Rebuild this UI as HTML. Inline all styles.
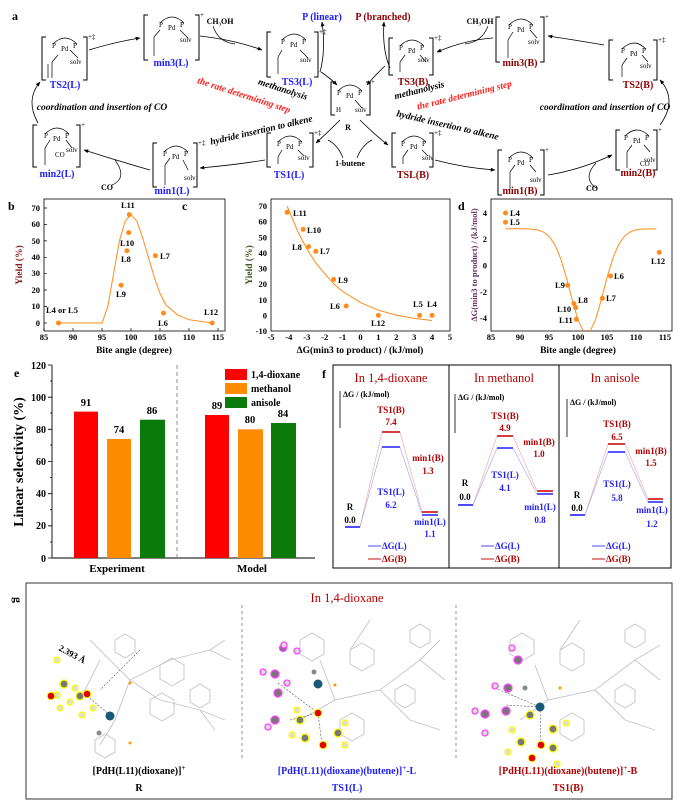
<!DOCTYPE html>
<html><head><meta charset="utf-8"><style>
html,body{margin:0;padding:0;background:#fff}
svg{display:block}
text{font-family:"Liberation Serif",serif;font-weight:bold}
.s{font-size:7px;font-weight:normal}
.lb{font-size:10px}
.it{font-style:italic;font-size:9.5px}
.tk{font-size:8.5px}
.ax{font-size:9.5px}
</style></head><body>
<svg width="681" height="809" viewBox="0 0 681 809" xmlns="http://www.w3.org/2000/svg">
<defs>
<marker id="ah" viewBox="0 0 10 10" refX="9" refY="5" markerWidth="6" markerHeight="6" orient="auto"><path d="M0,1 L10,5 L0,9 z" fill="#000"/></marker>
<clipPath id="cd"><rect x="491" y="198" width="181" height="133"/></clipPath>
<g id="cx">
<path d="M-12,-4 Q0,-16 12,-4" fill="none" stroke="#000" stroke-width="0.8"/>
<text x="-13" y="0" class="s">P</text><text x="-4" y="3" class="s">Pd</text><text x="8" y="0" class="s">P</text>
</g>
</defs>
<!-- ===== Panel a ===== -->
<text x="12" y="20" font-size="12">a</text>
<g fill="none" stroke="#000" stroke-width="1">
<path d="M46,37 H42 V80 H46 M83,37 H87 V80 H83"/>
<path d="M148,15 H144 V60 H148 M195,15 H199 V60 H195"/>
<path d="M271,32 H267 V77 H271 M314,32 H318 V77 H314"/>
<path d="M393,38 H389 V75 H393 M429,38 H433 V75 H429"/>
<path d="M500,17 H496 V62 H500 M540,17 H544 V62 H540"/>
<path d="M613,40 H609 V80 H613 M653,40 H657 V80 H653"/>
<path d="M335,82 H331 V115 H335 M366,82 H370 V115 H366"/>
<path d="M37,125 H33 V167 H37 M76,125 H80 V167 H76"/>
<path d="M157,143 H153 V187 H157 M193,143 H197 V187 H193"/>
<path d="M271,133 H267 V167 H271 M309,133 H313 V167 H309"/>
<path d="M396,133 H392 V167 H396 M429,133 H433 V167 H429"/>
<path d="M502,150 H498 V195 H502 M540,150 H544 V195 H540"/>
<path d="M620,130 H616 V170 H620 M653,130 H657 V170 H653"/>
</g>
<g stroke="#000" stroke-width="0.7" fill="none">
<path d="M58,55 L52,62 V78 M48,64 V78"/><path d="M160,30 L154,37 V56"/><path d="M282,50 L278,57 V74"/>
<path d="M405,55 L400,62 V72"/><path d="M513,32 L508,40 V58"/><path d="M627,58 L622,65 V77"/>
<path d="M50,140 L45,148 V165"/><path d="M170,158 L165,165 V185"/><path d="M282,150 L278,157 V164"/>
<path d="M408,150 L403,157 V164"/><path d="M515,165 L510,172 V190"/><path d="M632,145 L627,152 V168"/>
<path d="M70,50 L78,58"/><path d="M180,30 L188,38"/><path d="M300,50 L308,58"/><path d="M420,55 L426,62"/>
<path d="M530,30 L537,38"/><path d="M642,55 L648,62"/><path d="M355,100 L362,108"/><path d="M66,140 L72,148"/>
<path d="M183,160 L188,170"/><path d="M298,150 L304,156"/><path d="M422,150 L428,156"/><path d="M530,165 L536,172"/><path d="M644,145 L650,152"/>
</g>
<use href="#cx" x="65" y="48"/><use href="#cx" x="172" y="27"/><use href="#cx" x="294" y="44"/><use href="#cx" x="412" y="50"/>
<use href="#cx" x="521" y="29"/><use href="#cx" x="634" y="53"/><use href="#cx" x="350" y="95"/><use href="#cx" x="57" y="138"/>
<use href="#cx" x="176" y="156"/><use href="#cx" x="290" y="146"/><use href="#cx" x="414" y="146"/><use href="#cx" x="521" y="162"/><use href="#cx" x="637" y="140"/>
<g class="s" font-size="7">
<text x="70" y="64" class="s">solv</text><text x="180" y="42" class="s">solv</text><text x="300" y="62" class="s">solv</text>
<text x="418" y="62" class="s">solv</text><text x="528" y="44" class="s">solv</text><text x="640" y="68" class="s">solv</text>
<text x="355" y="112" class="s">solv</text><text x="336" y="112" class="s">H</text><text x="66" y="152" class="s">solv</text><text x="55" y="157" class="s">CO</text>
<text x="184" y="180" class="s">solv</text><text x="298" y="160" class="s">solv</text><text x="422" y="160" class="s">solv</text>
<text x="530" y="182" class="s">solv</text><text x="644" y="162" class="s">solv</text><text x="640" y="166" class="s">CO</text>
<text x="88" y="39" class="s">+‡</text><text x="200" y="17" class="s">+</text><text x="319" y="34" class="s">+‡</text><text x="434" y="40" class="s">+‡</text>
<text x="545" y="19" class="s">+</text><text x="658" y="42" class="s">+‡</text><text x="371" y="84" class="s">+</text><text x="81" y="127" class="s">+</text>
<text x="198" y="145" class="s">+‡</text><text x="314" y="135" class="s">+‡</text><text x="434" y="135" class="s">+‡</text><text x="545" y="152" class="s">+</text><text x="658" y="132" class="s">+</text>
</g>
<g class="lb" text-anchor="middle">
<text x="65" y="88" fill="#2020ff">TS2(L)</text><text x="171" y="66" fill="#2020ff">min3(L)</text><text x="297" y="85" fill="#2020ff">TS3(L)</text>
<text x="413" y="85" fill="#8b0000">TS3(B)</text><text x="520" y="66" fill="#8b0000">min3(B)</text><text x="638" y="88" fill="#8b0000">TS2(B)</text>
<text x="57" y="177" fill="#2020ff">min2(L)</text><text x="172" y="194" fill="#2020ff">min1(L)</text><text x="289" y="178" fill="#2020ff">TS1(L)</text>
<text x="413" y="178" fill="#8b0000">TSL(B)</text><text x="520" y="194" fill="#8b0000">min1(B)</text><text x="638" y="176" fill="#8b0000">min2(B)</text>
<text x="322" y="20" fill="#2020ff">P (linear)</text><text x="383" y="20" fill="#8b0000">P (branched)</text>
<text x="348" y="130" font-size="8">R</text><text x="350" y="166" font-size="8">1-butene</text>
<text x="220" y="24" font-size="8" font-weight="normal">CH₃OH</text><text x="480" y="24" font-size="8" font-weight="normal">CH₃OH</text>
<text x="107" y="190" font-size="8" font-weight="normal">CO</text><text x="592" y="191" font-size="8" font-weight="normal">CO</text>
</g>
<g class="it" text-anchor="middle">
<text x="102" y="110">coordination and insertion of CO</text><text x="605" y="110">coordination and insertion of CO</text>
<text transform="translate(282,92) rotate(18)" fill="#000">methanolysis</text>
<text transform="translate(243,98) rotate(18)" fill="#ff2020">the rate determining step</text>
<text transform="translate(420,93) rotate(-14)">methanolysis</text>
<text transform="translate(465,98) rotate(-14)" fill="#ff2020">the rate determining step</text>
<text transform="translate(262,133) rotate(-13)">hydride insertion to alkene</text>
<text transform="translate(447,128) rotate(13)">hydride insertion to alkene</text>
</g>
<g fill="none" stroke="#000" stroke-width="0.8" marker-end="url(#ah)">
<path d="M89,50 Q115,42 140,38"/><path d="M200,36 Q235,40 262,50"/><path d="M321,72 Q330,78 337,85"/>
<path d="M385,66 Q375,75 367,85"/><path d="M493,38 Q465,40 437,52"/><path d="M604,45 Q575,40 548,36"/>
<path d="M38,123 Q25,100 40,82"/><path d="M150,170 Q115,160 84,150"/><path d="M265,160 Q235,165 200,168"/>
<path d="M340,120 Q325,135 316,143"/><path d="M360,120 Q375,135 388,145"/><path d="M435,160 Q465,168 495,170"/>
<path d="M548,175 Q580,170 612,155"/><path d="M660,125 Q678,100 660,80"/>
<path d="M320,72 Q326,50 322,22"/><path d="M390,68 Q382,50 384,22"/>
</g>
<g fill="none" stroke="#000" stroke-width="0.7">
<path d="M213,26 Q218,42 235,44"/><path d="M488,26 Q482,42 465,44"/><path d="M112,185 Q128,178 115,160"/><path d="M596,188 Q582,178 596,163"/>
<path d="M343,158 Q338,145 328,140"/><path d="M357,158 Q362,145 372,140"/>
</g>
<!-- ===== Panel b ===== -->
<text x="8" y="210" font-size="12">b</text>
<rect x="44" y="199" width="181" height="132" fill="none" stroke="#000" stroke-width="0.8"/>
<g class="tk" text-anchor="middle">
<text x="44" y="340">85</text><text x="73" y="340">90</text><text x="102" y="340">95</text><text x="131" y="340">100</text><text x="160" y="340">105</text><text x="189" y="340">110</text><text x="218" y="340">115</text>
</g>
<g class="tk" text-anchor="end">
<text x="40" y="326">0</text><text x="40" y="309">10</text><text x="40" y="293">20</text><text x="40" y="276">30</text><text x="40" y="260">40</text><text x="40" y="244">50</text><text x="40" y="227">60</text><text x="40" y="211">70</text>
</g>
<g stroke="#000" stroke-width="0.7"><path d="M44,331 v-3 M73,331 v-3 M102,331 v-3 M131,331 v-3 M160,331 v-3 M189,331 v-3 M218,331 v-3 M44,323 h3 M44,306.6 h3 M44,290 h3 M44,273.7 h3 M44,257.3 h3 M44,240.9 h3 M44,224.4 h3 M44,208 h3"/></g>
<text x="134" y="353" class="ax" text-anchor="middle">Bite angle (degree)</text>
<text transform="translate(22,265) rotate(-90)" class="ax" text-anchor="middle" fill="#8b1a1a">Yield (%)</text>
<path d="M58.5,323 L102,323 L107.8,306.6 L113.6,273.7 L119.4,240.9 L125.2,221.1 L131,214.6 L136.8,221.1 L142.6,237.6 L148.4,257.3 L154.2,277 L160,293.4 L165.8,304.9 L177.4,314.8 L189,319.7 L212.2,323" fill="none" stroke="#ff8c1a" stroke-width="1"/>
<g fill="#ff8c1a"><circle cx="58.5" cy="323" r="2.5"/><circle cx="121.1" cy="285.2" r="2.5"/><circle cx="126.9" cy="250.7" r="2.5"/><circle cx="128.7" cy="232.6" r="2.5"/><circle cx="129.3" cy="214.6" r="2.5"/><circle cx="155.4" cy="255.6" r="2.5"/><circle cx="163.5" cy="313.1" r="2.5"/><circle cx="212.2" cy="323" r="2.5"/></g>
<g class="tk" font-size="7.5">
<text x="46" y="313">L4 or L5</text><text x="116" y="297">L9</text><text x="121" y="262">L8</text><text x="120" y="246">L10</text><text x="121" y="208">L11</text><text x="160" y="259">L7</text><text x="158" y="326">L6</text><text x="204" y="315">L12</text>
</g>
<!-- ===== Panel c ===== -->
<text x="182" y="210" font-size="12">c</text>
<rect x="271" y="199" width="179" height="132" fill="none" stroke="#000" stroke-width="0.8"/>
<g class="tk" text-anchor="middle">
<text x="271" y="340">-5</text><text x="288.9" y="340">-4</text><text x="306.8" y="340">-3</text><text x="324.7" y="340">-2</text><text x="342.6" y="340">-1</text><text x="360.5" y="340">0</text><text x="378.4" y="340">1</text><text x="396.3" y="340">2</text><text x="414.2" y="340">3</text><text x="432.1" y="340">4</text><text x="450" y="340">5</text>
</g>
<g class="tk" text-anchor="end" font-size="7.5">
<text x="267" y="209">70</text><text x="267" y="224.6">60</text><text x="267" y="240.3">50</text><text x="267" y="255.9">40</text><text x="267" y="271.5">30</text><text x="267" y="287.1">20</text><text x="267" y="302.8">10</text><text x="267" y="318.4">0</text><text x="267" y="334">-10</text>
</g>
<text x="360" y="353" class="ax" text-anchor="middle">ΔG(min3 to product) / (kJ/mol)</text>
<text transform="translate(252,265) rotate(-90)" class="ax" text-anchor="middle" fill="#3a5a1a">Yield (%)</text>
<path d="M287.1,206 L298,232 L307,249.1 L315.8,263.1 L324.7,273.7 L333.7,283.8 L342.6,291.4 L360.5,302.6 L378.4,310.2 L396.3,315.1 L414.2,318.4 L432.1,320.5" fill="none" stroke="#ff8c1a" stroke-width="1"/>
<g fill="#ff8c1a"><circle cx="287.1" cy="212.3" r="2.5"/><circle cx="303.2" cy="229.4" r="2.5"/><circle cx="308.6" cy="246.6" r="2.5"/><circle cx="315.8" cy="251.3" r="2.5"/><circle cx="333.7" cy="279.4" r="2.5"/><circle cx="346.2" cy="306" r="2.5"/><circle cx="378.4" cy="315.4" r="2.5"/><circle cx="419.6" cy="315.4" r="2.5"/><circle cx="432.1" cy="315.4" r="2.5"/></g>
<g class="tk" font-size="7.5">
<text x="293" y="216">L11</text><text x="307" y="233">L10</text><text x="292" y="250">L8</text><text x="320" y="254">L7</text><text x="338" y="283">L9</text><text x="330" y="309">L6</text><text x="371" y="326">L12</text><text x="413" y="307">L5</text><text x="427" y="307">L4</text>
</g>
<!-- ===== Panel d ===== -->
<text x="458" y="210" font-size="12">d</text>
<rect x="491" y="199" width="181" height="132" fill="none" stroke="#000" stroke-width="0.8"/>
<g class="tk" text-anchor="middle">
<text x="491" y="340">85</text><text x="520" y="340">90</text><text x="549" y="340">95</text><text x="578" y="340">100</text><text x="607" y="340">105</text><text x="636" y="340">110</text><text x="665" y="340">115</text>
</g>
<g class="tk" text-anchor="end">
<text x="487" y="216">4</text><text x="487" y="242">2</text><text x="487" y="268.5">0</text><text x="487" y="295">-2</text><text x="487" y="321">-4</text>
</g>
<text x="578" y="353" class="ax" text-anchor="middle">Bite angle (degree)</text>
<text transform="translate(477,265) rotate(-90)" font-size="8.5" text-anchor="middle" fill="#6a2a6a">ΔG(min3 to product) / (kJ/mol)</text>
<path clip-path="url(#cd)" d="M505.5,228.8 L520,228.8 L531.6,229.1 L537.4,229.9 L543.2,231.9 L549,236.2 L554.8,244.6 L560.6,258.4 L566.4,277.6 L572.2,299.9 L578,320 L583.8,332.2 L586.7,333.8 L589.6,332.2 L595.4,320 L601.2,299.9 L607,277.6 L612.8,258.4 L618.6,244.6 L624.4,236.2 L630.2,231.9 L636,229.9 L641.8,229.1 L656.3,228.8" fill="none" stroke="#ff8c1a" stroke-width="1"/>
<g fill="#ff8c1a"><circle cx="505.5" cy="213" r="2.5"/><circle cx="505.5" cy="222.2" r="2.5"/><circle cx="567.6" cy="285.2" r="2.5"/><circle cx="573.9" cy="303.6" r="2.5"/><circle cx="575.7" cy="307.5" r="2.5"/><circle cx="576.3" cy="319.3" r="2.5"/><circle cx="602.4" cy="298.3" r="2.5"/><circle cx="610.5" cy="276" r="2.5"/><circle cx="659.2" cy="252.4" r="2.5"/></g>
<g class="tk" font-size="7.5">
<text x="510" y="216">L4</text><text x="510" y="225">L5</text><text x="555" y="288">L9</text><text x="578" y="303">L8</text><text x="557" y="312">L10</text><text x="559" y="323">L11</text><text x="606" y="301">L7</text><text x="614" y="279">L6</text><text x="651" y="264">L12</text>
</g>
<!-- ===== Panel e ===== -->
<text x="14" y="377" font-size="12">e</text>
<path d="M52,365 V558 H315" fill="none" stroke="#000" stroke-width="0.9"/>
<g stroke="#000" stroke-width="0.8"><path d="M52,365 h-4 M52,397.2 h-4 M52,429.3 h-4 M52,461.5 h-4 M52,493.7 h-4 M52,525.8 h-4 M52,558 h-4 M52,381 h-2 M52,413 h-2 M52,445 h-2 M52,477.6 h-2 M52,509.7 h-2 M52,542 h-2"/></g>
<g font-size="10" text-anchor="end">
<text x="46" y="369">120</text><text x="46" y="401">100</text><text x="46" y="433">80</text><text x="46" y="465">60</text><text x="46" y="497">40</text><text x="46" y="529">20</text><text x="46" y="562">0</text>
</g>
<text transform="translate(23,462) rotate(-90)" font-size="14" text-anchor="middle">Linear selectivity (%)</text>
<line x1="177" y1="365" x2="177" y2="558" stroke="#777" stroke-width="0.8" stroke-dasharray="4,3"/>
<rect x="74" y="411.6" width="24" height="146.4" fill="#ff0000"/>
<rect x="107" y="439" width="24" height="119" fill="#ff8c00"/>
<rect x="140" y="419.7" width="25" height="138.3" fill="#0a7a0a"/>
<rect x="205" y="415" width="24" height="143" fill="#ff0000"/>
<rect x="238" y="429.3" width="25" height="128.7" fill="#ff8c00"/>
<rect x="271" y="423" width="25" height="135" fill="#0a7a0a"/>
<g font-size="10.5" text-anchor="middle">
<text x="86" y="406">91</text><text x="119" y="433">74</text><text x="152" y="414">86</text><text x="217" y="409">89</text><text x="250" y="423">80</text><text x="283" y="417">84</text>
<text x="117" y="572" font-size="11">Experiment</text><text x="252" y="572" font-size="11">Model</text>
</g>
<rect x="225" y="369" width="22" height="11" fill="#ff0000"/><rect x="225" y="383" width="22" height="11" fill="#ff8c00"/><rect x="225" y="397" width="22" height="11" fill="#0a7a0a"/>
<g font-size="10"><text x="251" y="378">1,4-dioxane</text><text x="251" y="392">methanol</text><text x="251" y="406">anisole</text></g>
<!-- ===== Panel f ===== -->
<text x="322" y="378" font-size="12">f</text>
<rect x="333" y="365" width="338" height="203" fill="none" stroke="#000" stroke-width="1"/>
<line x1="449" y1="365" x2="449" y2="568" stroke="#000"/><line x1="559" y1="365" x2="559" y2="568" stroke="#000"/>
<g font-size="12.5" fill="#b00000" text-anchor="middle" font-weight="normal">
<text x="391" y="382" style="font-weight:normal">In 1,4-dioxane</text><text x="504" y="382" style="font-weight:normal">In methanol</text><text x="615" y="382" style="font-weight:normal">In anisole</text>
</g>
<g stroke="#000" stroke-width="0.8"><path d="M340,428 V391 M455,433 V394 M567,437 V399"/></g>
<g font-size="8"><text x="343" y="397">ΔG / (kJ/mol)</text><text x="458" y="400">ΔG / (kJ/mol)</text><text x="570" y="405">ΔG / (kJ/mol)</text></g>
<!-- col1 -->
<g stroke-width="0.6" fill="none"><path d="M360,527 L382,432 M400,432 L422,512" stroke="#f4a0a0"/><path d="M360,527 L382,447 M400,447 L422,514" stroke="#a0a0f4"/></g>
<g stroke-width="1.6"><path d="M345,527 H360" stroke="#2020ff"/><path d="M382,432 H400 M422,512 H438" stroke="#c00000"/><path d="M382,447 H400 M422,515 H438" stroke="#2020ff"/></g>
<g font-size="9" text-anchor="middle">
<text x="391" y="413" fill="#b00000">TS1(B)</text><text x="391" y="425" fill="#b00000">7.4</text>
<text x="428" y="461" fill="#b00000">min1(B)</text><text x="428" y="474" fill="#b00000">1.3</text>
<text x="391" y="495" fill="#2020ff">TS1(L)</text><text x="391" y="508" fill="#2020ff">6.2</text>
<text x="350" y="510">R</text><text x="350" y="523">0.0</text>
<text x="430" y="525" fill="#2020ff">min1(L)</text><text x="430" y="537" fill="#2020ff">1.1</text>
</g>
<!-- col2 -->
<g stroke-width="0.6" fill="none"><path d="M473,505 L497,436 M513,436 L537,491" stroke="#f4a0a0"/><path d="M473,505 L497,448 M513,448 L537,494" stroke="#a0a0f4"/></g>
<g stroke-width="1.6"><path d="M458,505 H473" stroke="#2020ff"/><path d="M497,436 H513 M537,491 H553" stroke="#c00000"/><path d="M497,448 H513 M537,494 H553" stroke="#2020ff"/></g>
<g font-size="9" text-anchor="middle">
<text x="505" y="419" fill="#b00000">TS1(B)</text><text x="505" y="431" fill="#b00000">4.9</text>
<text x="539" y="445" fill="#b00000">min1(B)</text><text x="539" y="457" fill="#b00000">1.0</text>
<text x="505" y="478" fill="#2020ff">TS1(L)</text><text x="505" y="491" fill="#2020ff">4.1</text>
<text x="465" y="486">R</text><text x="465" y="500">0.0</text>
<text x="540" y="510" fill="#2020ff">min1(L)</text><text x="540" y="523" fill="#2020ff">0.8</text>
</g>
<!-- col3 -->
<g stroke-width="0.6" fill="none"><path d="M585,515 L608,444 M625,444 L648,499" stroke="#f4a0a0"/><path d="M585,515 L608,452 M625,452 L648,502" stroke="#a0a0f4"/></g>
<g stroke-width="1.6"><path d="M570,515 H585" stroke="#2020ff"/><path d="M608,444 H625 M648,499 H663" stroke="#c00000"/><path d="M608,452 H625 M648,502 H663" stroke="#2020ff"/></g>
<g font-size="9" text-anchor="middle">
<text x="617" y="427" fill="#b00000">TS1(B)</text><text x="617" y="440" fill="#b00000">6.5</text>
<text x="651" y="454" fill="#b00000">min1(B)</text><text x="651" y="466" fill="#b00000">1.5</text>
<text x="617" y="487" fill="#2020ff">TS1(L)</text><text x="617" y="501" fill="#2020ff">5.8</text>
<text x="577" y="498">R</text><text x="577" y="511">0.0</text>
<text x="652" y="513" fill="#2020ff">min1(L)</text><text x="652" y="527" fill="#2020ff">1.2</text>
</g>
<!-- legends -->
<g stroke-width="1.2"><path d="M368,546 H381 M481,546 H494 M592,546 H605" stroke="#7070ff"/><path d="M368,559 H381 M481,559 H494 M592,559 H605" stroke="#d04040"/></g>
<g font-size="9"><text x="382" y="549" fill="#2020ff">ΔG(L)</text><text x="382" y="562" fill="#b00000">ΔG(B)</text>
<text x="495" y="549" fill="#2020ff">ΔG(L)</text><text x="495" y="562" fill="#b00000">ΔG(B)</text>
<text x="606" y="549" fill="#2020ff">ΔG(L)</text><text x="606" y="562" fill="#b00000">ΔG(B)</text></g>
<!-- ===== Panel g ===== -->
<text transform="translate(14,597) rotate(90)" font-size="12">g</text>
<rect x="26" y="583" width="646" height="216" fill="none" stroke="#333" stroke-width="1"/>
<line x1="242" y1="605" x2="242" y2="760" stroke="#666" stroke-dasharray="3,3" stroke-width="0.7"/>
<line x1="456" y1="605" x2="456" y2="760" stroke="#666" stroke-dasharray="3,3" stroke-width="0.7"/>
<text x="347" y="602" font-size="12.5" fill="#b00000" text-anchor="middle" style="font-weight:normal">In 1,4-dioxane</text>
<g fill="none" stroke="#c4c4c4" stroke-width="0.9">
<!-- left molecule -->
<path d="M115,640 l10,-6 l10,6 v12 l-10,6 l-10,-6z M160,665 l12,-7 l12,7 v14 l-12,7 l-12,-7z M150,700 l12,-7 l12,7 v14 l-12,7 l-12,-7z M95,740 l10,-6 l10,6 v12 l-10,6 l-10,-6z M190,690 l10,-6 l10,6 v12 l-10,6 l-10,-6z"/>
<path d="M90,640 L130,680 L115,720 L100,745 M130,680 L170,660 L210,650 L230,660 M130,680 L160,700 L200,710 L225,720 M210,650 L225,640 M200,710 L215,730 M100,660 L80,700"/>
<!-- middle -->
<path d="M300,640 l12,-7 l12,7 v14 l-12,7 l-12,-7z M350,650 l12,-7 l12,7 v14 l-12,7 l-12,-7z M340,720 l12,-7 l12,7 v14 l-12,7 l-12,-7z M395,690 l10,-6 l10,6 v12 l-10,6 l-10,-6z M410,630 l10,-6 l10,6 v12 l-10,6 l-10,-6z"/>
<path d="M320,660 L335,700 L380,690 L420,660 L440,640 M380,690 L410,720 L440,730 M335,700 L300,720 M350,650 L370,620 M420,660 L445,680"/>
<!-- right -->
<path d="M510,640 l12,-7 l12,7 v14 l-12,7 l-12,-7z M560,650 l12,-7 l12,7 v14 l-12,7 l-12,-7z M560,720 l12,-7 l12,7 v14 l-12,7 l-12,-7z M615,690 l10,-6 l10,6 v12 l-10,6 l-10,-6z M625,630 l10,-6 l10,6 v12 l-10,6 l-10,-6z"/>
<path d="M535,665 L548,700 L595,690 L635,660 L660,645 M595,690 L625,720 L655,730 M548,700 L520,720 M560,650 L580,620 M635,660 L660,680"/>
</g>
<g stroke="#555" stroke-width="0.6" stroke-dasharray="2,1.5" fill="none">
<path d="M87,696 L110,715 M140,650 L100,690"/><path d="M278,683 L318,713 L290,720 M318,713 L322,745"/><path d="M495,688 L540,707 L505,705 M540,707 L541,745"/>
</g>
<text transform="translate(58,650) rotate(28)" font-size="9">2.393 Å</text>
<!-- balls -->
<g stroke="#ffff00" stroke-width="1.3">
<circle cx="57" cy="695" r="3.2" fill="#ddd"/><circle cx="64" cy="684" r="4" fill="#777"/><circle cx="80" cy="696" r="4" fill="#777"/><circle cx="57" cy="660" r="3" fill="#ddd"/>
<circle cx="70" cy="702" r="3" fill="#ddd"/><circle cx="82" cy="715" r="3" fill="#ddd"/><circle cx="93" cy="708" r="3" fill="#ddd"/><circle cx="60" cy="708" r="3" fill="#ddd"/><circle cx="75" cy="688" r="3" fill="#ddd"/>
<circle cx="300" cy="720" r="4" fill="#777"/><circle cx="305" cy="738" r="4" fill="#777"/><circle cx="338" cy="733" r="4" fill="#777"/><circle cx="292" cy="735" r="3" fill="#ddd"/><circle cx="297" cy="710" r="3" fill="#ddd"/><circle cx="345" cy="723" r="3" fill="#ddd"/><circle cx="345" cy="745" r="3" fill="#ddd"/>
<circle cx="521" cy="742" r="4" fill="#777"/><circle cx="530" cy="715" r="4" fill="#777"/><circle cx="553" cy="729" r="4" fill="#777"/><circle cx="553" cy="748" r="4" fill="#777"/><circle cx="512" cy="730" r="3" fill="#ddd"/><circle cx="508" cy="752" r="3" fill="#ddd"/><circle cx="566" cy="723" r="3" fill="#ddd"/><circle cx="557" cy="764" r="3" fill="#ddd"/>
</g>
<g stroke="#ff40ff" stroke-width="1.3">
<circle cx="283" cy="648" r="3.5" fill="#777"/><circle cx="275" cy="674" r="4" fill="#777"/><circle cx="278" cy="693" r="4" fill="#777"/><circle cx="275" cy="720" r="4" fill="#777"/><circle cx="268" cy="727" r="3" fill="#ddd"/><circle cx="284" cy="645" r="3" fill="#ddd"/><circle cx="297" cy="651" r="3" fill="#ddd"/><circle cx="263" cy="672" r="3" fill="#ddd"/><circle cx="287" cy="683" r="3" fill="#ddd"/>
<circle cx="518" cy="660" r="4" fill="#777"/><circle cx="508" cy="688" r="4" fill="#777"/><circle cx="485" cy="714" r="4" fill="#777"/><circle cx="506" cy="711" r="4" fill="#777"/><circle cx="512" cy="648" r="3" fill="#ddd"/><circle cx="495" cy="686" r="3" fill="#ddd"/><circle cx="475" cy="711" r="3" fill="#ddd"/><circle cx="485" cy="733" r="3" fill="#ddd"/>
</g>
<g>
<circle cx="51" cy="696" r="3.8" fill="#e00000" stroke="#ff0" stroke-width="1"/><circle cx="87" cy="694" r="3.8" fill="#e00000" stroke="#ff0" stroke-width="1"/>
<circle cx="323" cy="745" r="3.8" fill="#e00000" stroke="#ff0" stroke-width="1"/><circle cx="318" cy="713" r="3.8" fill="#e00000" stroke="#ff0" stroke-width="1"/>
<circle cx="541" cy="745" r="3.8" fill="#e00000" stroke="#ff0" stroke-width="1"/><circle cx="532" cy="758" r="3.8" fill="#e00000" stroke="#ff0" stroke-width="1"/>
<circle cx="110" cy="716" r="4.5" fill="#1a5a78"/><circle cx="318" cy="684" r="4.5" fill="#1a5a78"/><circle cx="540" cy="707" r="4.5" fill="#1a5a78"/>
<circle cx="99" cy="733" r="2.5" fill="#888"/><circle cx="314" cy="672" r="2.5" fill="#888"/><circle cx="525" cy="688" r="2.5" fill="#888"/>
<circle cx="130" cy="683" r="1.5" fill="#f90"/><circle cx="130" cy="743" r="1.5" fill="#f90"/><circle cx="335" cy="685" r="1.5" fill="#f90"/><circle cx="560" cy="688" r="1.5" fill="#f90"/>
</g>
<g font-size="10" text-anchor="middle">
<text x="139" y="774">[PdH(L11)(dioxane)]<tspan dy="-4" font-size="7">+</tspan></text><text x="139" y="791">R</text>
<text x="347" y="774" fill="#2020ff">[PdH(L11)(dioxane)(butene)]<tspan dy="-4" font-size="7">+</tspan><tspan dy="4">-L</tspan></text><text x="347" y="791" fill="#2020ff">TS1(L)</text>
<text x="568" y="774" fill="#b00000">[PdH(L11)(dioxane)(butene)]<tspan dy="-4" font-size="7">+</tspan><tspan dy="4">-B</tspan></text><text x="568" y="791" fill="#b00000">TS1(B)</text>
</g>
</svg>
</body></html>
